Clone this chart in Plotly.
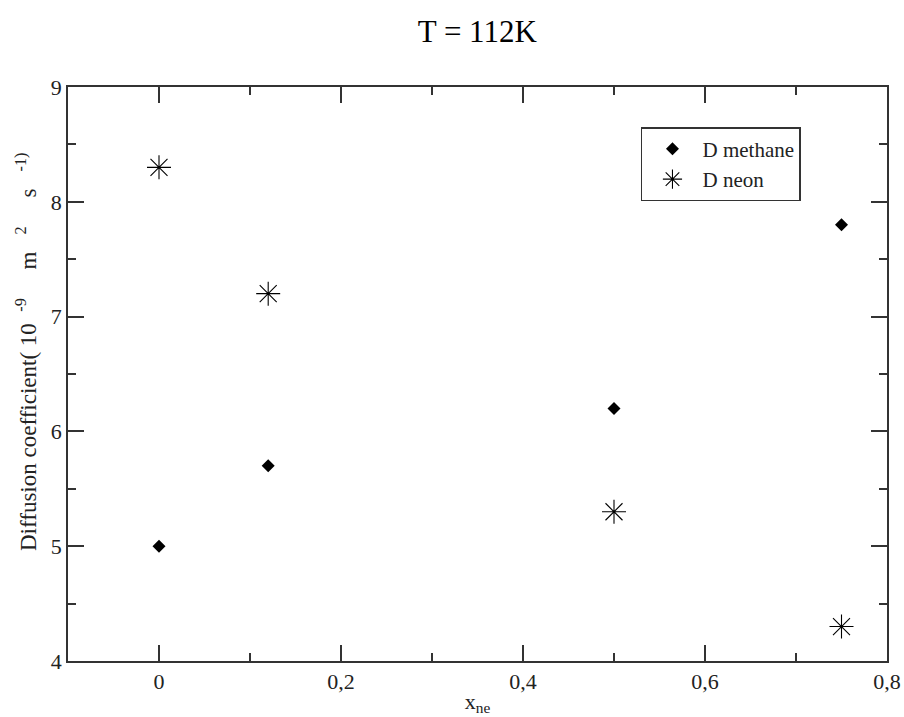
import plotly.graph_objects as go

# Mole fraction of neon and diffusion coefficients (10^-9 m^2 s^-1) at T = 112 K
x_ne = [0.0, 0.12, 0.5, 0.75]
d_methane = [5.0, 5.7, 6.2, 7.8]
d_neon = [8.3, 7.2, 5.3, 4.3]

x_ticks = [0, 0.2, 0.4, 0.6, 0.8]
y_ticks = [4, 5, 6, 7, 8, 9]

serif = "Liberation Serif"
ink = "#222222"
line_col = "#333333"

fig = go.Figure()
fig.add_trace(go.Scatter(
    x=x_ne, y=d_methane, mode="markers", name="D methane",
    marker=dict(symbol="diamond", size=10, color="black"),
))
fig.add_trace(go.Scatter(
    x=x_ne, y=d_neon, mode="markers", name="D neon",
    marker=dict(symbol="asterisk-open", size=20, color="black",
                line=dict(color="black", width=1.1)),
))

axis_common = dict(
    showline=True, linecolor=line_col, linewidth=1.5, mirror="ticks",
    ticks="inside", ticklen=16, tickwidth=1.5, tickcolor=line_col,
    showgrid=False, zeroline=False, automargin=False,
    tickfont=dict(family=serif, size=22, color=ink),
)

fig.update_xaxes(
    range=[-0.1, 0.8], tickvals=x_ticks,
    minor=dict(dtick=0.1, tick0=0, ticks="inside", ticklen=8, tickwidth=1.5, tickcolor=line_col),
    title=dict(text="x<sub>ne</sub>", font=dict(family=serif, size=22, color=ink), standoff=0),
    **axis_common,
)
fig.update_yaxes(
    range=[4, 9], tickvals=y_ticks,
    minor=dict(dtick=0.5, tick0=4, ticks="inside", ticklen=8, tickwidth=1.5, tickcolor=line_col),
    **axis_common,
)

# Vertical axis label with superscripted exponents
y_label = ("Diffusion coefficient( 10&nbsp;&nbsp;<sup>-9</sup>&nbsp;&nbsp;&nbsp;&nbsp;&nbsp;m"
           "&nbsp;&nbsp;&nbsp;<sup>2</sup>&nbsp;&nbsp;&nbsp;&nbsp;&nbsp;s&nbsp;&nbsp;&nbsp;<sup>-1)</sup>")
fig.add_annotation(
    text=y_label, textangle=-90, xref="paper", yref="paper",
    x=0, y=0.5, xshift=-42, yshift=22, xanchor="center", yanchor="middle",
    showarrow=False, font=dict(family=serif, size=23, color=ink),
)

fig.update_layout(
    width=904, height=717,
    margin=dict(l=68, r=17, t=87, b=56),
    paper_bgcolor="white", plot_bgcolor="white",
    separators=",.",
    title=dict(text="T = 112K", x=0.528, xanchor="center", y=0.957, yanchor="middle",
               font=dict(family=serif, size=31, color="black")),
    legend=dict(x=0.6996, y=0.930, xanchor="left", yanchor="top",
                bgcolor="white", bordercolor=line_col, borderwidth=1.5,
                font=dict(family=serif, size=21, color=ink),
                tracegroupgap=0, itemsizing="trace", itemwidth=50),
    showlegend=True,
)

fig.write_html("out.html")
